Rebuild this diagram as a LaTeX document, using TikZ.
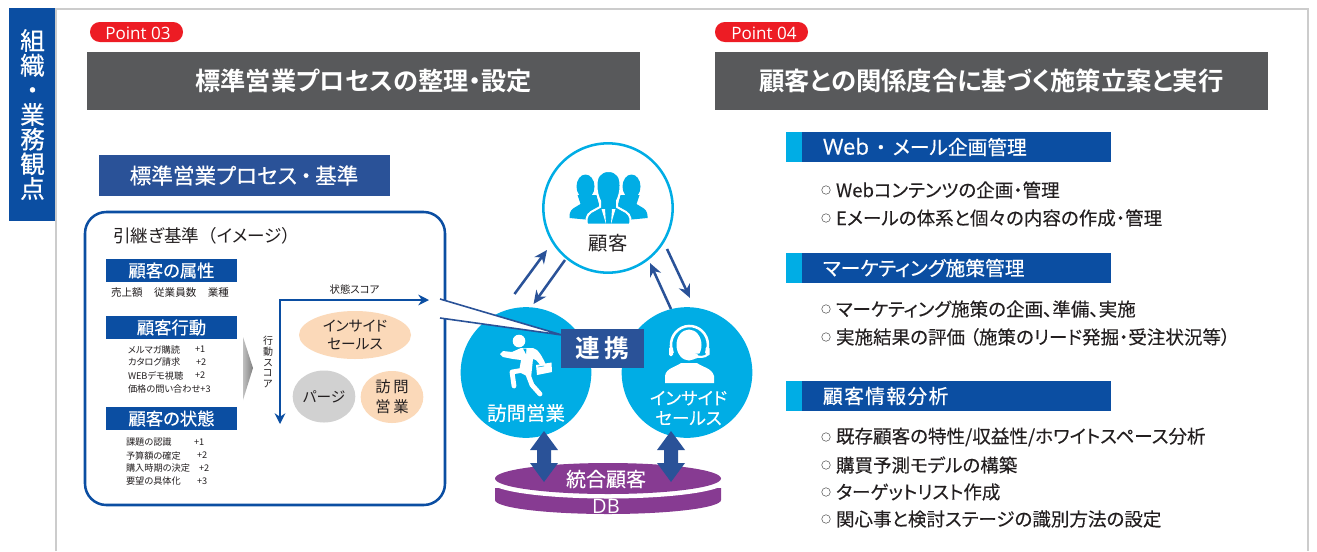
\documentclass[tikz,border=0pt]{standalone}
\usepackage{fontspec}
\setmainfont[BoldFont={Noto Sans CJK JP Bold},RawFeature=+palt]{Noto Sans CJK JP}
\newfontfamily\latinf{Open Sans}
\newfontfamily\med[FakeBold=0.45,RawFeature=+palt]{Noto Sans CJK JP}
\newfontfamily\lite[FakeBold=0.15,RawFeature=+palt]{Noto Sans CJK JP}
\newfontfamily\latinm[FakeBold=0.3]{Open Sans}
\usetikzlibrary{arrows.meta,shapes.geometric}
\definecolor{navy}{HTML}{0B4EA2}
\definecolor{mid}{HTML}{2A5298}
\definecolor{cyanb}{HTML}{00ADE5}
\definecolor{dgray}{HTML}{58595B}
\definecolor{framec}{HTML}{CCCCCC}
\definecolor{redp}{HTML}{ED1C24}
\definecolor{peach}{HTML}{FBD9B9}
\definecolor{purp}{HTML}{873B92}
\definecolor{txt}{HTML}{231F20}
\newcommand{\px}[2]{\fontsize{#1}{#2}\selectfont}
\tikzset{
 x=0.75pt,y=-0.75pt,
 tx/.style={inner sep=0pt,outer sep=0pt,text=txt},
 wt/.style={inner sep=0pt,outer sep=0pt,text=white},
 box/.style={inner sep=0pt,outer sep=0pt,draw=none},
 flow/.style={draw=mid,line width=1.9pt,-{Stealth[length=10pt,width=9pt]}},
 item/.style={tx,anchor=west,font=\lite\px{13.9}{16}},
 bul/.style={circle,draw=black!60,line width=0.45pt,inner sep=0pt,minimum size=6.4pt,fill=white},
 sm/.style={tx,anchor=west,font=\px{6.9}{9}},
}
\begin{document}
\begin{tikzpicture}
\useasboundingbox (0,0) rectangle (1317,551);
% frame
\draw[framec,line width=2.2pt] (56,551) -- (56,9) -- (1308,9) -- (1308,551);
% side band
\fill[navy] (9,8) rectangle (55,221);
\node[wt,align=center,font=\med\px{18.5}{18.5}] (band) at (32.5,114.5) {組\\織\\・\\業\\務\\観\\点};
% points
\fill[redp,rounded corners=7.4pt] (90,22) rectangle (183,42);
\node[wt,font=\latinf\px{12.8}{14}] (p3) at (138,33) {Point 03};
\fill[redp,rounded corners=7.4pt] (715,22) rectangle (808,42);
\node[wt,font=\latinf\px{12.8}{14}] (p4) at (764,33) {Point 04};
\fill[dgray] (87,52) rectangle (640,110);
\node[wt,font=\bfseries\px{18.9}{20}] (h3) at (363.5,81) {標準営業プロセスの整理・設定};
\fill[dgray] (715,52) rectangle (1268,110);
\node[wt,font=\bfseries\px{19}{20}] (h4) at (991.5,81) {顧客との関係度合に基づく施策立案と実行};
% standard box
\fill[mid] (99,155) rectangle (390,196);
\node[wt,font=\med\px{16.2}{18}] (std) at (244,175.5) {標準営業プロセス\,・\,基準};
\draw[navy,line width=1.9pt,fill=white,rounded corners=16pt] (85,212) rectangle (445,505);
\node[tx,anchor=west,font=\px{13.2}{14}] (hand) at (113,236) {引継ぎ基準\hspace{0.5em}（イメージ）};
\foreach \y/\t/\n in {259/顧客の属性/a,316/顧客行動/b,407/顧客の状態/c}{
 \fill[navy] (106,\y) rectangle (237,\y+23);
 \node[wt,font=\med\px{13}{14}] (bar\n) at (171.5,\y+11.5) {\t};
}
\node[tx,anchor=west,font=\px{7.9}{9}] (attr) at (111,293) {売上額\hspace{1.1em}従業員数\hspace{1.1em}業種};
\node[sm] (l1) at (128,349.5) {メルマガ購読};\node[sm] (l1b) at (195,349.5) {+1};
\node[sm] (l2) at (128,362.5) {カタログ請求};\node[sm] (l2b) at (196,362.5) {+2};
\node[sm] (l3) at (128,375.5) {WEBデモ視聴};\node[sm] (l3b) at (195,375.5) {+2};
\node[sm] (l4) at (128,388.5) {価格の問い合わせ+3};
\node[sm] (m1) at (126,442.5) {課題の認識};\node[sm] (m1b) at (194,442.5) {+1};
\node[sm] (m2) at (126,455.5) {予算額の確定};\node[sm] (m2b) at (197,455.5) {+2};
\node[sm] (m3) at (126,468.5) {購入時期の決定};\node[sm] (m3b) at (199,468.5) {+2};
\node[sm] (m4) at (126,481.5) {要望の具体化};\node[sm] (m4b) at (197,481.5) {+3};
% gray arrow
\shade[left color=black!25,right color=black!50] (243,337) -- (253,368) -- (243,400) -- cycle;
% score axes
\coordinate (yend) at (280,424);
\coordinate (xend) at (429,300);
\coordinate (corner) at (280,300);
\draw[navy,line width=1.3pt,{Stealth[length=8pt,width=8pt]}-{Stealth[length=8pt,width=8pt]}] (yend) -- (corner) -- (xend);
\node[tx,font=\px{7.8}{9}] (st) at (354.5,290) {状態スコア};
\node[tx,align=center,font=\px{7.5}{8}] (ac) at (268,362) {行\\動\\ス\\コ\\ア};
% ellipses
\node[ellipse,fill=peach,minimum width=84pt,minimum height=36pt,inner sep=0pt,align=center,font=\px{11}{14},text=txt] (e1) at (355,335) {インサイド\\セールス};
\node[ellipse,fill=black!18,minimum width=47pt,minimum height=39pt,inner sep=0pt,font=\px{11}{14},text=txt] (e2) at (324,396.5) {パージ};
\node[ellipse,fill=peach,minimum width=47pt,minimum height=39pt,inner sep=0pt,align=center,font=\px{11.5}{15},text=txt] (e3) at (392,397) {訪\,問\\営\,業};
% customer circle
\node[circle,draw=cyanb,line width=1.9pt,fill=white,minimum size=97pt,inner sep=0pt] (cust) at (608,208) {};
\node[tx,font=\px{14.5}{16}] (custt) at (608,243) {顧客};
% people icon
\begin{scope}[cyanb]
\foreach \s in {1,-1}{
 \begin{scope}[shift={(608.5,0)},xscale=\s]
 \fill (23,186.5) ellipse (9 and 12);
 \fill (12,195) -- (31,195) -- (28,204) -- (33,207) .. controls (37,209) and (39,212) .. (39,216) -- (39,218) -- (18,220) -- (8,210) -- cycle;
 \end{scope}
}
\fill[draw=white,line width=1.5pt] (608.5,171) .. controls (600,171) and (596,177) .. (596.5,186) .. controls (596.5,192) and (598,197) .. (600,201) -- (600,207) -- (591,212) .. controls (586,215) and (586,221) .. (587,224.5) -- (630,224.5) .. controls (631,221) and (631,215) .. (626,212) -- (617,207) -- (617,201) .. controls (619,197) and (620.5,192) .. (620.5,186) .. controls (621,177) and (617,171) .. (608.5,171) -- cycle;
\fill[white] (601.5,209) -- (606,224) -- (605,209) -- cycle;
\fill[white] (615.5,209) -- (611,224) -- (612,209) -- cycle;
\end{scope}
% side circles
\node[circle,fill=cyanb,minimum size=98pt,inner sep=0pt] (sales) at (526,372.5) {};
\node[circle,fill=cyanb,minimum size=98pt,inner sep=0pt] (inside) at (687,372.5) {};
\node[wt,font=\lite\px{14.6}{18}] (salest) at (526,413) {訪問営業};
\node[wt,align=center,font=\lite\px{13.2}{15}] (insidet) at (688.5,408) {インサイド\\セールス};
% runner
\fill[white] (519,341) circle (6.3);
\begin{scope}[white,line cap=round,line join=round]
\fill (521,348) -- (533,348) .. controls (538,349) and (542,356) .. (546,365) -- (542,367) -- (536,360) -- (533,359) -- (531,378) -- (519,372) -- (521,360) -- (513,359) -- (503,357) -- (500,354) -- (503,351) -- (512,352) -- cycle;
\draw[line width=3.6pt] (524,370) -- (512,372) -- (514,386);
\draw[line width=3.6pt] (527,372) -- (532,385) -- (540,394);
\fill (536,365) -- (551.5,362.5) -- (552,372) -- (537,375) -- cycle;
\draw[cyanb,line width=0.4pt] (538,367) -- (544,366);
\fill[cyanb] (523,348.5) -- (526.5,348.5) -- (526,354) -- cycle;
\end{scope}
% headset
\fill[white] (689,345) ellipse (12.5 and 15.5);
\draw[white,line width=1.9pt] (672.7,353) arc[start angle=155,end angle=385,x radius=18.5,y radius=19];
\fill[white,rounded corners=1pt] (669,347) rectangle (673,356);
\fill[white,rounded corners=1pt] (705.5,347) rectangle (709.5,356);
\fill[white] (665,383) -- (665,376) .. controls (666,368) and (676,367) .. (681,363) -- (697,363) .. controls (702,367) and (712,368) .. (714,376) -- (714,383) -- cycle;
\draw[cyanb,line width=4.5pt,line cap=round] (696,356.5) -- (706,357);
\draw[white,line width=1.6pt] (708,354) .. controls (705,358) and (699,357) .. (693,356);
\fill[white] (694,356) ellipse (4.5 and 3);
% callout
\coordinate (c1) at (440,299);
\coordinate (c2) at (440,318);
\coordinate (c3) at (562,335);
\fill[white] (c1) -- (c3) -- (c2) -- cycle;
\draw[mid,line width=1.2pt] (c1) -- (c3) -- (c2);
\node[box,fill=mid,minimum width=62.25pt,minimum height=29.25pt,text=white,font=\bfseries\px{18.5}{20}] (link) at (602.5,348.5) {連\,携};
% flows
\coordinate (a1) at (514.5,294);\coordinate (a2) at (547,250);
\coordinate (b1) at (565,260);\coordinate (b2) at (533.5,304);
\coordinate (c1b) at (671,309);\coordinate (c2b) at (650,263);
\coordinate (d1) at (667,249);\coordinate (d2) at (690,298);
\draw[flow] (a1) -- (a2);
\draw[flow] (b1) -- (b2);
\draw[flow] (c1b) -- (c2b);
\draw[flow] (d1) -- (d2);
% DB
\fill[purp] (495,488) -- (495,500) arc[start angle=180,end angle=0,x radius=113,y radius=14] -- (721,488) -- cycle;
\fill[white] (608,482) ellipse (117 and 16.5);
\fill[purp] (608,478.5) ellipse (113 and 15.5);
\node[wt,font=\lite\px{15}{18}] (dbt) at (606,479) {統合顧客};
\node[wt,font=\latinf\px{15}{16}] (dbb) at (606,506) {DB};
% double arrows
\foreach \cx in {544,671}{
 \fill[mid] (\cx,431) -- (\cx+14,450) -- (\cx+7,450) -- (\cx+7,463) -- (\cx+14,463) -- (\cx,482) -- (\cx-14,463) -- (\cx-7,463) -- (\cx-7,450) -- (\cx-14,450) -- cycle;
}
% right bars
\foreach \y/\t/\n in {132/{{\latinm\px{16.6}{17}Web}\hspace{0.35em}・\hspace{0.35em}メール企画管理}/r,253/{マーケティング施策管理}/s,381/{\addfontfeature{LetterSpace=7}顧客情報分析}/t}{
 \fill[navy] (786,\y) rectangle (1111,\y+30);
 \fill[cyanb] (786,\y) rectangle (802,\y+30);
 \node[wt,anchor=west,font=\med\px{14.8}{17}] (bar\n) at (823,\y+15) {\t};
}
% bullets
\foreach \y/\t/\n in {190/{Webコンテンツの企画・管理}/1,218/{Eメールの体系と個々の内容の作成・管理}/2,309/{マーケティング施策の企画、準備、実施}/3,337/{実施結果の評価\hspace{0.25em}（施策のリード発掘・受注状況等）}/4,437/{既存顧客の特性/収益性/ホワイトスペース分析}/5,465/{購買予測モデルの構築}/6,492/{ターゲットリスト作成}/7,519/{関心事と検討ステージの識別方法の設定}/8}{
 \node[bul] (b\n) at (826,\y) {};
 \node[item] (i\n) at (836,\y) {\t};
}
\end{tikzpicture}
\end{document}
